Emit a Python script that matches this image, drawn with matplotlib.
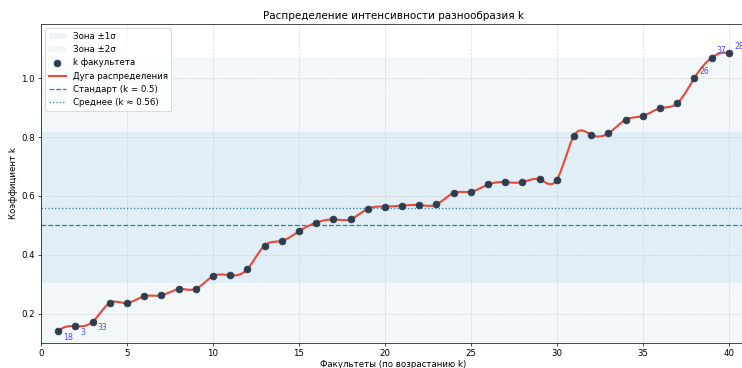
import numpy as np
import matplotlib
matplotlib.use("Agg")
import matplotlib.pyplot as plt

# k per faculty, sorted ascending
positions = list(range(1, 41))
k_values = [0.140, 0.157, 0.172, 0.236, 0.236, 0.259, 0.262, 0.283, 0.284, 0.327,
            0.330, 0.351, 0.431, 0.447, 0.480, 0.509, 0.520, 0.521, 0.556, 0.564,
            0.567, 0.569, 0.571, 0.610, 0.614, 0.639, 0.647, 0.647, 0.656, 0.655,
            0.805, 0.808, 0.813, 0.859, 0.872, 0.898, 0.915, 1.001, 1.070, 1.086]
# faculty ids shown next to the three lowest / three highest points
low_ids = [18, 3, 33]
high_ids = [26, 37, 28]

standard_k = 0.5
mean_k = 0.56
sigma_k = 0.257


def spline_curve(x, y, n=400):
    """not-a-knot cubic spline through (x, y), for the smooth arc"""
    x = np.asarray(x, float); y = np.asarray(y, float)
    m = len(x); h = np.diff(x)
    A = np.zeros((m, m)); b = np.zeros(m)
    for i in range(1, m - 1):
        A[i, i - 1] = h[i - 1]
        A[i, i] = 2 * (h[i - 1] + h[i])
        A[i, i + 1] = h[i]
        b[i] = 6 * ((y[i + 1] - y[i]) / h[i] - (y[i] - y[i - 1]) / h[i - 1])
    A[0, 0], A[0, 1], A[0, 2] = h[1], -(h[0] + h[1]), h[0]
    A[-1, -3], A[-1, -2], A[-1, -1] = h[-1], -(h[-2] + h[-1]), h[-2]
    M = np.linalg.solve(A, b)
    xs = np.linspace(x[0], x[-1], n)
    idx = np.clip(np.searchsorted(x, xs) - 1, 0, m - 2)
    x0, x1 = x[idx], x[idx + 1]; hh = x1 - x0
    ys = (M[idx] * (x1 - xs) ** 3 / (6 * hh) + M[idx + 1] * (xs - x0) ** 3 / (6 * hh)
          + (y[idx] / hh - M[idx] * hh / 6) * (x1 - xs)
          + (y[idx + 1] / hh - M[idx + 1] * hh / 6) * (xs - x0))
    return xs, ys


fig = plt.figure(figsize=(742 / 62, 368 / 62), dpi=62)
ax = fig.add_axes([0.0553, 0.068, 0.950, 0.867])

ax.axhspan(mean_k - sigma_k, mean_k + sigma_k, color="#2980b9", alpha=0.08, lw=0, label="Зона ±1σ")
ax.axhspan(mean_k - 2 * sigma_k, mean_k + 2 * sigma_k, color="#2980b9", alpha=0.06, lw=0, label="Зона ±2σ")

xs, ys = spline_curve(positions, k_values)
ax.scatter(positions, k_values, s=60, color="#2c3e50", zorder=4, label="k факультета")
ax.plot(xs, ys, color="#e74c3c", lw=2.5, zorder=3, label="Дуга распределения")
ax.axhline(standard_k, color="#2980b9", ls="--", lw=1.5, label="Стандарт (k = 0.5)")
ax.axhline(mean_k, color="#2980b9", ls=":", lw=1.5, label="Среднее (k ≈ 0.56)")

for i, fid in enumerate(low_ids):
    ax.annotate(str(fid), (positions[i], k_values[i]), xytext=(6, -7), textcoords="offset points",
                ha="left", va="center", fontsize=9, color="#4a4aff")
for j, fid in enumerate(high_ids):
    i = len(k_values) - 3 + j
    ax.annotate(str(fid), (positions[i], k_values[i]), xytext=(6, 8), textcoords="offset points",
                ha="left", va="center", fontsize=9, color="#4a4aff")

ax.set_xlim(0, 41)
ax.set_ylim(0.1, 1.185)
ax.set_yticks([0.2, 0.4, 0.6, 0.8, 1.0])
ax.grid(True, ls="--", color="#cccccc", alpha=0.8, lw=0.8)
ax.set_title("Распределение интенсивности разнообразия k", fontsize=12)
ax.set_xlabel("Факультеты (по возрастанию k)", fontsize=10, labelpad=2)
ax.set_ylabel("Коэффициент k", fontsize=10)
ax.legend(loc="upper left", fontsize=10)

fig.savefig("out.png", dpi=62)
